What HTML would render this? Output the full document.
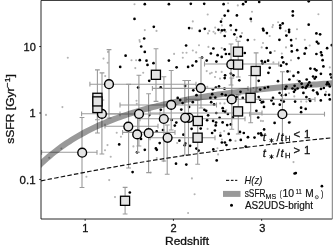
<!DOCTYPE html>
<html><head><meta charset="utf-8"><style>
html,body{margin:0;padding:0;background:#fff;}
body{width:333px;height:245px;overflow:hidden;}
svg{display:block;will-change:transform;}
svg text{font-family:"Liberation Sans",sans-serif;}
</style></head><body>
<svg width="333" height="245" viewBox="0 0 333 245"><defs><clipPath id="ax"><rect x="41" y="0.4" width="291.3" height="218.6"/></clipPath></defs><g clip-path="url(#ax)"><circle cx="134.5" cy="4.2" r="1.05" fill="#b4b4b4"/><circle cx="144.8" cy="30.1" r="1.05" fill="#b4b4b4"/><circle cx="139.5" cy="40.1" r="1.05" fill="#b4b4b4"/><circle cx="192.8" cy="21.4" r="1.05" fill="#b4b4b4"/><circle cx="156.5" cy="30.9" r="1.05" fill="#b4b4b4"/><circle cx="192.0" cy="28.4" r="1.05" fill="#b4b4b4"/><circle cx="228.1" cy="3.3" r="1.05" fill="#b4b4b4"/><circle cx="237.8" cy="5.4" r="1.05" fill="#b4b4b4"/><circle cx="252.0" cy="11.7" r="1.05" fill="#b4b4b4"/><circle cx="207.7" cy="14.5" r="1.05" fill="#b4b4b4"/><circle cx="221.9" cy="18.9" r="1.05" fill="#b4b4b4"/><circle cx="251.2" cy="21.4" r="1.05" fill="#b4b4b4"/><circle cx="221.9" cy="25.4" r="1.05" fill="#b4b4b4"/><circle cx="231.1" cy="30.1" r="1.05" fill="#b4b4b4"/><circle cx="215.2" cy="27.6" r="1.05" fill="#b4b4b4"/><circle cx="209.3" cy="30.9" r="1.05" fill="#b4b4b4"/><circle cx="208.0" cy="33.4" r="1.05" fill="#b4b4b4"/><circle cx="213.5" cy="31.8" r="1.05" fill="#b4b4b4"/><circle cx="215.2" cy="33.4" r="1.05" fill="#b4b4b4"/><circle cx="220.7" cy="32.6" r="1.05" fill="#b4b4b4"/><circle cx="225.7" cy="31.8" r="1.05" fill="#b4b4b4"/><circle cx="236.9" cy="37.6" r="1.05" fill="#b4b4b4"/><circle cx="242.0" cy="33.1" r="1.05" fill="#b4b4b4"/><circle cx="254.5" cy="39.8" r="1.05" fill="#b4b4b4"/><circle cx="236.1" cy="39.8" r="1.05" fill="#b4b4b4"/><circle cx="278.1" cy="22.2" r="1.05" fill="#b4b4b4"/><circle cx="273.0" cy="25.1" r="1.05" fill="#b4b4b4"/><circle cx="272.4" cy="27.1" r="1.05" fill="#b4b4b4"/><circle cx="269.7" cy="36.0" r="1.05" fill="#b4b4b4"/><circle cx="285.7" cy="30.9" r="1.05" fill="#b4b4b4"/><circle cx="297.0" cy="29.3" r="1.05" fill="#b4b4b4"/><circle cx="296.1" cy="38.8" r="1.05" fill="#b4b4b4"/><circle cx="304.8" cy="39.8" r="1.05" fill="#b4b4b4"/><circle cx="318.4" cy="14.2" r="1.05" fill="#b4b4b4"/><circle cx="67.8" cy="57.7" r="1.05" fill="#b4b4b4"/><circle cx="108.0" cy="51.9" r="1.05" fill="#b4b4b4"/><circle cx="103.5" cy="58.6" r="1.05" fill="#b4b4b4"/><circle cx="107.7" cy="62.7" r="1.05" fill="#b4b4b4"/><circle cx="131.5" cy="60.2" r="1.05" fill="#b4b4b4"/><circle cx="136.1" cy="60.2" r="1.05" fill="#b4b4b4"/><circle cx="135.3" cy="68.1" r="1.05" fill="#b4b4b4"/><circle cx="143.2" cy="72.8" r="1.05" fill="#b4b4b4"/><circle cx="139.8" cy="41.8" r="1.05" fill="#b4b4b4"/><circle cx="105.2" cy="76.1" r="1.05" fill="#b4b4b4"/><circle cx="174.1" cy="53.9" r="1.05" fill="#b4b4b4"/><circle cx="182.8" cy="52.7" r="1.05" fill="#b4b4b4"/><circle cx="186.5" cy="52.7" r="1.05" fill="#b4b4b4"/><circle cx="182.8" cy="57.7" r="1.05" fill="#b4b4b4"/><circle cx="192.8" cy="50.5" r="1.05" fill="#b4b4b4"/><circle cx="196.2" cy="52.4" r="1.05" fill="#b4b4b4"/><circle cx="199.0" cy="45.2" r="1.05" fill="#b4b4b4"/><circle cx="208.4" cy="46.9" r="1.05" fill="#b4b4b4"/><circle cx="221.7" cy="48.0" r="1.05" fill="#b4b4b4"/><circle cx="206.7" cy="71.1" r="1.05" fill="#b4b4b4"/><circle cx="210.0" cy="73.6" r="1.05" fill="#b4b4b4"/><circle cx="211.7" cy="72.8" r="1.05" fill="#b4b4b4"/><circle cx="215.9" cy="71.9" r="1.05" fill="#b4b4b4"/><circle cx="221.7" cy="71.9" r="1.05" fill="#b4b4b4"/><circle cx="215.0" cy="77.0" r="1.05" fill="#b4b4b4"/><circle cx="220.0" cy="78.6" r="1.05" fill="#b4b4b4"/><circle cx="263.0" cy="43.0" r="1.05" fill="#b4b4b4"/><circle cx="261.7" cy="47.4" r="1.05" fill="#b4b4b4"/><circle cx="286.0" cy="47.4" r="1.05" fill="#b4b4b4"/><circle cx="274.7" cy="51.0" r="1.05" fill="#b4b4b4"/><circle cx="281.8" cy="53.5" r="1.05" fill="#b4b4b4"/><circle cx="291.0" cy="60.2" r="1.05" fill="#b4b4b4"/><circle cx="290.1" cy="71.4" r="1.05" fill="#b4b4b4"/><circle cx="273.4" cy="62.4" r="1.05" fill="#b4b4b4"/><circle cx="309.7" cy="45.5" r="1.05" fill="#b4b4b4"/><circle cx="329.8" cy="67.4" r="1.05" fill="#b4b4b4"/><circle cx="297.5" cy="80.3" r="1.05" fill="#b4b4b4"/><circle cx="62.4" cy="107.1" r="1.05" fill="#b4b4b4"/><circle cx="46.0" cy="114.9" r="1.05" fill="#b4b4b4"/><circle cx="136.5" cy="100.7" r="1.05" fill="#b4b4b4"/><circle cx="136.8" cy="103.7" r="1.05" fill="#b4b4b4"/><circle cx="116.7" cy="132.7" r="1.05" fill="#b4b4b4"/><circle cx="120.9" cy="136.7" r="1.05" fill="#b4b4b4"/><circle cx="107.5" cy="145.1" r="1.05" fill="#b4b4b4"/><circle cx="105.0" cy="150.3" r="1.05" fill="#b4b4b4"/><circle cx="133.4" cy="146.4" r="1.05" fill="#b4b4b4"/><circle cx="110.7" cy="156.8" r="1.05" fill="#b4b4b4"/><circle cx="109.2" cy="180.1" r="1.05" fill="#b4b4b4"/><circle cx="115.0" cy="197.1" r="1.05" fill="#b4b4b4"/><circle cx="49.2" cy="157.8" r="1.05" fill="#b4b4b4"/><circle cx="61.4" cy="148.6" r="1.05" fill="#b4b4b4"/><circle cx="86.4" cy="176.7" r="1.05" fill="#b4b4b4"/><circle cx="293.5" cy="162.1" r="1.05" fill="#b4b4b4"/><circle cx="263.0" cy="121.1" r="1.05" fill="#b4b4b4"/><circle cx="207.3" cy="86.9" r="1.05" fill="#b4b4b4"/><circle cx="224.5" cy="103.4" r="1.05" fill="#b4b4b4"/><circle cx="220.2" cy="103.4" r="1.05" fill="#b4b4b4"/><circle cx="226.3" cy="110.2" r="1.05" fill="#b4b4b4"/><circle cx="253.4" cy="88.0" r="1.05" fill="#b4b4b4"/><circle cx="257.1" cy="88.0" r="1.05" fill="#b4b4b4"/><circle cx="289.0" cy="93.3" r="1.05" fill="#b4b4b4"/><circle cx="294.3" cy="96.4" r="1.05" fill="#b4b4b4"/><circle cx="301.1" cy="101.6" r="1.05" fill="#b4b4b4"/><circle cx="306.4" cy="101.6" r="1.05" fill="#b4b4b4"/><circle cx="326.0" cy="91.8" r="1.05" fill="#b4b4b4"/><circle cx="207.6" cy="128.9" r="1.05" fill="#b4b4b4"/><circle cx="224.2" cy="131.1" r="1.05" fill="#b4b4b4"/><circle cx="220.4" cy="132.7" r="1.05" fill="#b4b4b4"/><circle cx="235.5" cy="140.9" r="1.05" fill="#b4b4b4"/><circle cx="221.9" cy="139.5" r="1.05" fill="#b4b4b4"/><circle cx="177.2" cy="143.0" r="1.05" fill="#b4b4b4"/><circle cx="156.8" cy="158.1" r="1.05" fill="#b4b4b4"/><circle cx="163.6" cy="161.1" r="1.05" fill="#b4b4b4"/><circle cx="150.8" cy="172.5" r="1.05" fill="#b4b4b4"/><circle cx="217.4" cy="148.3" r="1.05" fill="#b4b4b4"/><circle cx="218.1" cy="154.4" r="1.05" fill="#b4b4b4"/><circle cx="191.9" cy="178.4" r="1.05" fill="#b4b4b4"/><circle cx="194.6" cy="194.3" r="1.05" fill="#b4b4b4"/><circle cx="188.1" cy="213.0" r="1.05" fill="#b4b4b4"/><circle cx="260.9" cy="120.9" r="1.05" fill="#b4b4b4"/><circle cx="247.3" cy="137.5" r="1.05" fill="#b4b4b4"/><circle cx="290.3" cy="122.1" r="1.05" fill="#b4b4b4"/><circle cx="144.8" cy="4.2" r="1.35" fill="#000"/><circle cx="134.5" cy="18.9" r="1.35" fill="#000"/><circle cx="144.2" cy="38.5" r="1.35" fill="#000"/><circle cx="168.9" cy="4.2" r="1.35" fill="#000"/><circle cx="190.8" cy="3.8" r="1.35" fill="#000"/><circle cx="204.2" cy="3.8" r="1.35" fill="#000"/><circle cx="153.8" cy="26.8" r="1.35" fill="#000"/><circle cx="189.1" cy="28.1" r="1.35" fill="#000"/><circle cx="199.8" cy="30.9" r="1.35" fill="#000"/><circle cx="204.8" cy="28.8" r="1.35" fill="#000"/><circle cx="223.6" cy="4.2" r="1.35" fill="#000"/><circle cx="243.1" cy="4.2" r="1.35" fill="#000"/><circle cx="245.8" cy="1.7" r="1.35" fill="#000"/><circle cx="259.2" cy="2.0" r="1.35" fill="#000"/><circle cx="228.1" cy="10.9" r="1.35" fill="#000"/><circle cx="224.7" cy="15.6" r="1.35" fill="#000"/><circle cx="236.9" cy="15.4" r="1.35" fill="#000"/><circle cx="250.8" cy="18.9" r="1.35" fill="#000"/><circle cx="221.0" cy="21.7" r="1.35" fill="#000"/><circle cx="230.7" cy="25.4" r="1.35" fill="#000"/><circle cx="218.5" cy="29.8" r="1.35" fill="#000"/><circle cx="221.9" cy="30.4" r="1.35" fill="#000"/><circle cx="224.4" cy="30.1" r="1.35" fill="#000"/><circle cx="236.1" cy="30.1" r="1.35" fill="#000"/><circle cx="224.7" cy="36.0" r="1.35" fill="#000"/><circle cx="234.4" cy="34.3" r="1.35" fill="#000"/><circle cx="240.7" cy="36.5" r="1.35" fill="#000"/><circle cx="247.8" cy="40.1" r="1.35" fill="#000"/><circle cx="308.7" cy="1.3" r="1.35" fill="#000"/><circle cx="292.8" cy="11.4" r="1.35" fill="#000"/><circle cx="292.8" cy="15.6" r="1.35" fill="#000"/><circle cx="282.7" cy="23.4" r="1.35" fill="#000"/><circle cx="280.2" cy="25.4" r="1.35" fill="#000"/><circle cx="280.2" cy="28.1" r="1.35" fill="#000"/><circle cx="308.7" cy="24.7" r="1.35" fill="#000"/><circle cx="263.0" cy="28.8" r="1.35" fill="#000"/><circle cx="263.5" cy="30.4" r="1.35" fill="#000"/><circle cx="266.9" cy="33.1" r="1.35" fill="#000"/><circle cx="289.1" cy="29.8" r="1.35" fill="#000"/><circle cx="289.1" cy="32.1" r="1.35" fill="#000"/><circle cx="286.4" cy="35.6" r="1.35" fill="#000"/><circle cx="279.4" cy="39.8" r="1.35" fill="#000"/><circle cx="291.1" cy="40.1" r="1.35" fill="#000"/><circle cx="316.4" cy="33.4" r="1.35" fill="#000"/><circle cx="320.1" cy="34.3" r="1.35" fill="#000"/><circle cx="125.6" cy="55.7" r="1.35" fill="#000"/><circle cx="120.2" cy="66.9" r="1.35" fill="#000"/><circle cx="139.8" cy="60.2" r="1.35" fill="#000"/><circle cx="141.2" cy="46.5" r="1.35" fill="#000"/><circle cx="144.8" cy="51.9" r="1.35" fill="#000"/><circle cx="146.5" cy="60.7" r="1.35" fill="#000"/><circle cx="147.5" cy="64.9" r="1.35" fill="#000"/><circle cx="149.2" cy="80.8" r="1.35" fill="#000"/><circle cx="153.5" cy="63.2" r="1.35" fill="#000"/><circle cx="168.9" cy="60.6" r="1.35" fill="#000"/><circle cx="186.1" cy="45.5" r="1.35" fill="#000"/><circle cx="176.6" cy="67.3" r="1.35" fill="#000"/><circle cx="188.1" cy="66.9" r="1.35" fill="#000"/><circle cx="192.5" cy="65.6" r="1.35" fill="#000"/><circle cx="196.2" cy="61.4" r="1.35" fill="#000"/><circle cx="202.0" cy="57.6" r="1.35" fill="#000"/><circle cx="213.4" cy="48.5" r="1.35" fill="#000"/><circle cx="224.7" cy="49.4" r="1.35" fill="#000"/><circle cx="210.9" cy="53.5" r="1.35" fill="#000"/><circle cx="217.6" cy="55.2" r="1.35" fill="#000"/><circle cx="221.7" cy="56.9" r="1.35" fill="#000"/><circle cx="225.9" cy="54.0" r="1.35" fill="#000"/><circle cx="229.3" cy="54.0" r="1.35" fill="#000"/><circle cx="244.8" cy="53.0" r="1.35" fill="#000"/><circle cx="206.7" cy="60.6" r="1.35" fill="#000"/><circle cx="216.4" cy="61.6" r="1.35" fill="#000"/><circle cx="230.9" cy="73.6" r="1.35" fill="#000"/><circle cx="233.4" cy="75.3" r="1.35" fill="#000"/><circle cx="225.1" cy="75.3" r="1.35" fill="#000"/><circle cx="224.7" cy="78.1" r="1.35" fill="#000"/><circle cx="239.3" cy="80.3" r="1.35" fill="#000"/><circle cx="266.7" cy="48.0" r="1.35" fill="#000"/><circle cx="270.4" cy="52.7" r="1.35" fill="#000"/><circle cx="291.5" cy="45.7" r="1.35" fill="#000"/><circle cx="291.8" cy="51.4" r="1.35" fill="#000"/><circle cx="297.2" cy="50.2" r="1.35" fill="#000"/><circle cx="282.1" cy="57.4" r="1.35" fill="#000"/><circle cx="298.5" cy="58.1" r="1.35" fill="#000"/><circle cx="261.7" cy="61.1" r="1.35" fill="#000"/><circle cx="265.0" cy="61.9" r="1.35" fill="#000"/><circle cx="268.1" cy="60.7" r="1.35" fill="#000"/><circle cx="262.5" cy="63.6" r="1.35" fill="#000"/><circle cx="280.9" cy="65.7" r="1.35" fill="#000"/><circle cx="283.4" cy="62.4" r="1.35" fill="#000"/><circle cx="286.5" cy="64.1" r="1.35" fill="#000"/><circle cx="269.7" cy="67.8" r="1.35" fill="#000"/><circle cx="268.4" cy="72.8" r="1.35" fill="#000"/><circle cx="287.6" cy="71.4" r="1.35" fill="#000"/><circle cx="298.2" cy="72.4" r="1.35" fill="#000"/><circle cx="293.5" cy="75.9" r="1.35" fill="#000"/><circle cx="289.4" cy="79.5" r="1.35" fill="#000"/><circle cx="278.0" cy="81.2" r="1.35" fill="#000"/><circle cx="258.7" cy="80.8" r="1.35" fill="#000"/><circle cx="304.6" cy="53.7" r="1.35" fill="#000"/><circle cx="305.9" cy="48.2" r="1.35" fill="#000"/><circle cx="316.8" cy="41.8" r="1.35" fill="#000"/><circle cx="318.4" cy="43.5" r="1.35" fill="#000"/><circle cx="327.1" cy="48.2" r="1.35" fill="#000"/><circle cx="331.8" cy="45.2" r="1.35" fill="#000"/><circle cx="316.4" cy="54.0" r="1.35" fill="#000"/><circle cx="321.0" cy="52.4" r="1.35" fill="#000"/><circle cx="321.8" cy="55.2" r="1.35" fill="#000"/><circle cx="322.6" cy="60.2" r="1.35" fill="#000"/><circle cx="323.4" cy="66.4" r="1.35" fill="#000"/><circle cx="310.4" cy="68.6" r="1.35" fill="#000"/><circle cx="314.7" cy="69.1" r="1.35" fill="#000"/><circle cx="316.4" cy="70.3" r="1.35" fill="#000"/><circle cx="320.9" cy="73.8" r="1.35" fill="#000"/><circle cx="313.1" cy="76.5" r="1.35" fill="#000"/><circle cx="315.9" cy="77.0" r="1.35" fill="#000"/><circle cx="314.7" cy="78.6" r="1.35" fill="#000"/><circle cx="306.7" cy="79.5" r="1.35" fill="#000"/><circle cx="330.5" cy="74.4" r="1.35" fill="#000"/><circle cx="331.5" cy="77.5" r="1.35" fill="#000"/><circle cx="299.4" cy="81.3" r="1.35" fill="#000"/><circle cx="138.1" cy="87.5" r="1.35" fill="#000"/><circle cx="149.3" cy="115.1" r="1.35" fill="#000"/><circle cx="160.7" cy="87.4" r="1.35" fill="#000"/><circle cx="160.8" cy="109.8" r="1.35" fill="#000"/><circle cx="119.2" cy="144.4" r="1.35" fill="#000"/><circle cx="137.1" cy="152.3" r="1.35" fill="#000"/><circle cx="144.8" cy="149.8" r="1.35" fill="#000"/><circle cx="141.0" cy="138.9" r="1.35" fill="#000"/><circle cx="132.6" cy="172.1" r="1.35" fill="#000"/><circle cx="129.8" cy="192.5" r="1.35" fill="#000"/><circle cx="171.7" cy="120.0" r="1.35" fill="#000"/><circle cx="174.8" cy="125.6" r="1.35" fill="#000"/><circle cx="156.7" cy="131.4" r="1.35" fill="#000"/><circle cx="163.0" cy="130.0" r="1.35" fill="#000"/><circle cx="183.4" cy="134.7" r="1.35" fill="#000"/><circle cx="179.4" cy="140.7" r="1.35" fill="#000"/><circle cx="159.7" cy="143.1" r="1.35" fill="#000"/><circle cx="155.9" cy="148.4" r="1.35" fill="#000"/><circle cx="185.3" cy="143.4" r="1.35" fill="#000"/><circle cx="190.1" cy="145.8" r="1.35" fill="#000"/><circle cx="196.4" cy="148.6" r="1.35" fill="#000"/><circle cx="198.6" cy="150.6" r="1.35" fill="#000"/><circle cx="200.7" cy="128.6" r="1.35" fill="#000"/><circle cx="254.5" cy="137.6" r="1.35" fill="#000"/><circle cx="258.4" cy="133.5" r="1.35" fill="#000"/><circle cx="261.6" cy="135.2" r="1.35" fill="#000"/><circle cx="264.1" cy="129.4" r="1.35" fill="#000"/><circle cx="274.6" cy="122.9" r="1.35" fill="#000"/><circle cx="289.2" cy="122.5" r="1.35" fill="#000"/><circle cx="295.8" cy="173.1" r="1.35" fill="#000"/><circle cx="294.6" cy="173.5" r="1.35" fill="#000"/><circle cx="321.9" cy="186.2" r="1.35" fill="#000"/><circle cx="215.9" cy="87.5" r="1.35" fill="#000"/><circle cx="219.0" cy="86.3" r="1.35" fill="#000"/><circle cx="212.9" cy="89.3" r="1.35" fill="#000"/><circle cx="224.5" cy="88.7" r="1.35" fill="#000"/><circle cx="212.2" cy="94.2" r="1.35" fill="#000"/><circle cx="222.0" cy="94.2" r="1.35" fill="#000"/><circle cx="225.7" cy="95.2" r="1.35" fill="#000"/><circle cx="210.4" cy="97.9" r="1.35" fill="#000"/><circle cx="215.3" cy="97.7" r="1.35" fill="#000"/><circle cx="211.2" cy="102.2" r="1.35" fill="#000"/><circle cx="214.1" cy="104.4" r="1.35" fill="#000"/><circle cx="222.7" cy="108.2" r="1.35" fill="#000"/><circle cx="206.2" cy="110.8" r="1.35" fill="#000"/><circle cx="240.5" cy="91.8" r="1.35" fill="#000"/><circle cx="236.8" cy="97.1" r="1.35" fill="#000"/><circle cx="242.8" cy="97.9" r="1.35" fill="#000"/><circle cx="260.2" cy="89.6" r="1.35" fill="#000"/><circle cx="264.7" cy="88.0" r="1.35" fill="#000"/><circle cx="268.1" cy="87.1" r="1.35" fill="#000"/><circle cx="258.7" cy="97.1" r="1.35" fill="#000"/><circle cx="260.2" cy="99.8" r="1.35" fill="#000"/><circle cx="261.7" cy="102.4" r="1.35" fill="#000"/><circle cx="263.2" cy="101.9" r="1.35" fill="#000"/><circle cx="271.5" cy="100.4" r="1.35" fill="#000"/><circle cx="273.0" cy="97.9" r="1.35" fill="#000"/><circle cx="273.5" cy="103.9" r="1.35" fill="#000"/><circle cx="279.6" cy="93.0" r="1.35" fill="#000"/><circle cx="281.3" cy="100.1" r="1.35" fill="#000"/><circle cx="279.8" cy="104.7" r="1.35" fill="#000"/><circle cx="264.0" cy="106.9" r="1.35" fill="#000"/><circle cx="256.4" cy="110.8" r="1.35" fill="#000"/><circle cx="258.2" cy="117.5" r="1.35" fill="#000"/><circle cx="286.4" cy="86.5" r="1.35" fill="#000"/><circle cx="285.3" cy="88.8" r="1.35" fill="#000"/><circle cx="292.5" cy="88.5" r="1.35" fill="#000"/><circle cx="294.6" cy="85.8" r="1.35" fill="#000"/><circle cx="295.2" cy="89.8" r="1.35" fill="#000"/><circle cx="297.6" cy="88.5" r="1.35" fill="#000"/><circle cx="294.0" cy="91.8" r="1.35" fill="#000"/><circle cx="281.9" cy="95.3" r="1.35" fill="#000"/><circle cx="285.8" cy="94.9" r="1.35" fill="#000"/><circle cx="302.6" cy="87.3" r="1.35" fill="#000"/><circle cx="305.7" cy="88.0" r="1.35" fill="#000"/><circle cx="308.0" cy="84.7" r="1.35" fill="#000"/><circle cx="311.0" cy="85.8" r="1.35" fill="#000"/><circle cx="313.2" cy="90.3" r="1.35" fill="#000"/><circle cx="317.0" cy="92.6" r="1.35" fill="#000"/><circle cx="317.7" cy="94.1" r="1.35" fill="#000"/><circle cx="323.8" cy="88.0" r="1.35" fill="#000"/><circle cx="326.8" cy="84.3" r="1.35" fill="#000"/><circle cx="329.8" cy="86.5" r="1.35" fill="#000"/><circle cx="329.1" cy="94.8" r="1.35" fill="#000"/><circle cx="329.8" cy="99.4" r="1.35" fill="#000"/><circle cx="303.4" cy="92.9" r="1.35" fill="#000"/><circle cx="306.4" cy="97.1" r="1.35" fill="#000"/><circle cx="309.4" cy="99.4" r="1.35" fill="#000"/><circle cx="310.2" cy="100.9" r="1.35" fill="#000"/><circle cx="320.8" cy="100.4" r="1.35" fill="#000"/><circle cx="295.1" cy="101.6" r="1.35" fill="#000"/><circle cx="283.8" cy="101.6" r="1.35" fill="#000"/><circle cx="301.1" cy="107.7" r="1.35" fill="#000"/><circle cx="305.7" cy="108.9" r="1.35" fill="#000"/><circle cx="301.1" cy="112.2" r="1.35" fill="#000"/><circle cx="325.3" cy="94.8" r="1.35" fill="#000"/><circle cx="216.3" cy="113.0" r="1.35" fill="#000"/><circle cx="223.2" cy="111.0" r="1.35" fill="#000"/><circle cx="219.6" cy="117.8" r="1.35" fill="#000"/><circle cx="207.1" cy="120.2" r="1.35" fill="#000"/><circle cx="213.1" cy="120.9" r="1.35" fill="#000"/><circle cx="216.1" cy="122.5" r="1.35" fill="#000"/><circle cx="215.7" cy="125.4" r="1.35" fill="#000"/><circle cx="222.6" cy="122.4" r="1.35" fill="#000"/><circle cx="227.2" cy="125.1" r="1.35" fill="#000"/><circle cx="230.8" cy="124.4" r="1.35" fill="#000"/><circle cx="214.9" cy="130.5" r="1.35" fill="#000"/><circle cx="212.1" cy="133.0" r="1.35" fill="#000"/><circle cx="220.4" cy="135.7" r="1.35" fill="#000"/><circle cx="228.7" cy="133.9" r="1.35" fill="#000"/><circle cx="240.0" cy="131.9" r="1.35" fill="#000"/><circle cx="243.8" cy="133.0" r="1.35" fill="#000"/><circle cx="230.2" cy="140.2" r="1.35" fill="#000"/><circle cx="221.9" cy="142.5" r="1.35" fill="#000"/><circle cx="224.9" cy="142.5" r="1.35" fill="#000"/><circle cx="226.4" cy="145.0" r="1.35" fill="#000"/><circle cx="240.8" cy="139.9" r="1.35" fill="#000"/><circle cx="248.0" cy="137.2" r="1.35" fill="#000"/><circle cx="245.7" cy="146.6" r="1.35" fill="#000"/><circle cx="156.8" cy="149.8" r="1.35" fill="#000"/><circle cx="184.7" cy="145.3" r="1.35" fill="#000"/><circle cx="176.0" cy="163.7" r="1.35" fill="#000"/><circle cx="186.3" cy="164.6" r="1.35" fill="#000"/><circle cx="213.3" cy="149.4" r="1.35" fill="#000"/><circle cx="216.7" cy="160.4" r="1.35" fill="#000"/><circle cx="260.9" cy="133.4" r="1.35" fill="#000"/><circle cx="185.1" cy="85.9" r="1.35" fill="#000"/><circle cx="193.3" cy="90.3" r="1.35" fill="#000"/><circle cx="196.5" cy="95.2" r="1.35" fill="#000"/><circle cx="177.7" cy="97.9" r="1.35" fill="#000"/><circle cx="180.2" cy="100.1" r="1.35" fill="#000"/><circle cx="182.6" cy="103.1" r="1.35" fill="#000"/><circle cx="192.8" cy="102.2" r="1.35" fill="#000"/><circle cx="189.1" cy="106.9" r="1.35" fill="#000"/><circle cx="181.3" cy="109.6" r="1.35" fill="#000"/><circle cx="204.4" cy="109.8" r="1.35" fill="#000"/><circle cx="208.1" cy="115.3" r="1.35" fill="#000"/><circle cx="176.3" cy="122.6" r="1.35" fill="#000"/><circle cx="191.6" cy="128.8" r="1.35" fill="#000"/><circle cx="225.1" cy="111.9" r="1.35" fill="#000"/><circle cx="227.9" cy="114.0" r="1.35" fill="#000"/><circle cx="232.8" cy="117.4" r="1.35" fill="#000"/><circle cx="309.4" cy="82.4" r="1.35" fill="#000"/><circle cx="306.8" cy="86.3" r="1.35" fill="#000"/><circle cx="301.6" cy="83.7" r="1.35" fill="#000"/><circle cx="321.0" cy="88.9" r="1.35" fill="#000"/><circle cx="327.5" cy="82.4" r="1.35" fill="#000"/><circle cx="328.8" cy="84.3" r="1.35" fill="#000"/><path d="M109.0,49.6V118.0M106.6,49.6h4.8M106.6,118.0h4.8" stroke="#9a9a9a" stroke-width="1.1" fill="none"/><path d="M101.9,100V154.0M99.5,100h4.8M99.5,154.0h4.8" stroke="#9a9a9a" stroke-width="1.1" fill="none"/><path d="M82.0,117.5V187.5M79.6,117.5h4.8M79.6,187.5h4.8" stroke="#9a9a9a" stroke-width="1.1" fill="none"/><path d="M138.9,75.2V146M136.5,75.2h4.8M136.5,146h4.8" stroke="#9a9a9a" stroke-width="1.1" fill="none"/><path d="M128.6,84.4V168.0M126.19999999999999,84.4h4.8M126.19999999999999,168.0h4.8" stroke="#9a9a9a" stroke-width="1.1" fill="none"/><path d="M137.6,118V152.2M135.2,118h4.8M135.2,152.2h4.8" stroke="#9a9a9a" stroke-width="1.1" fill="none"/><path d="M148.6,93.8V172.6M146.2,93.8h4.8M146.2,172.6h4.8" stroke="#9a9a9a" stroke-width="1.1" fill="none"/><path d="M171.2,70.5V130M168.79999999999998,70.5h4.8M168.79999999999998,130h4.8" stroke="#9a9a9a" stroke-width="1.1" fill="none"/><path d="M163.9,76.7V161M161.5,76.7h4.8M161.5,161h4.8" stroke="#9a9a9a" stroke-width="1.1" fill="none"/><path d="M188.5,80.5V155M186.1,80.5h4.8M186.1,155h4.8" stroke="#9a9a9a" stroke-width="1.1" fill="none"/><path d="M184.8,80.5V155M182.4,80.5h4.8M182.4,155h4.8" stroke="#9a9a9a" stroke-width="1.1" fill="none"/><path d="M167.2,125V174.2M164.79999999999998,125h4.8M164.79999999999998,174.2h4.8" stroke="#9a9a9a" stroke-width="1.1" fill="none"/><path d="M201.0,57.7V108M198.6,57.7h4.8M198.6,108h4.8" stroke="#9a9a9a" stroke-width="1.1" fill="none"/><path d="M231.0,44.0V85M228.6,44.0h4.8M228.6,85h4.8" stroke="#9a9a9a" stroke-width="1.1" fill="none"/><path d="M231.8,78V129.3M229.4,78h4.8M229.4,129.3h4.8" stroke="#9a9a9a" stroke-width="1.1" fill="none"/><path d="M282.4,71.7V143.3M280.0,71.7h4.8M280.0,143.3h4.8" stroke="#9a9a9a" stroke-width="1.1" fill="none"/><path d="M97.4,69.9V133.0M95.0,69.9h4.8M95.0,133.0h4.8" stroke="#9a9a9a" stroke-width="1.1" fill="none"/><path d="M97.4,110V119.7M95.0,110h4.8M95.0,119.7h4.8" stroke="#9a9a9a" stroke-width="1.1" fill="none"/><path d="M102.0,72.9V112M99.6,72.9h4.8M99.6,112h4.8" stroke="#9a9a9a" stroke-width="1.1" fill="none"/><path d="M156.0,48.8V101.4M153.6,48.8h4.8M153.6,101.4h4.8" stroke="#9a9a9a" stroke-width="1.1" fill="none"/><path d="M238.2,41.3V77.0M235.79999999999998,41.3h4.8M235.79999999999998,77.0h4.8" stroke="#9a9a9a" stroke-width="1.1" fill="none"/><path d="M256.1,52.9V92M253.70000000000002,52.9h4.8M253.70000000000002,92h4.8" stroke="#9a9a9a" stroke-width="1.1" fill="none"/><path d="M250.7,75.5V122.8M248.29999999999998,75.5h4.8M248.29999999999998,122.8h4.8" stroke="#9a9a9a" stroke-width="1.1" fill="none"/><path d="M238.3,95V134.0M235.9,95h4.8M235.9,134.0h4.8" stroke="#9a9a9a" stroke-width="1.1" fill="none"/><path d="M197.7,100V164.2M195.29999999999998,100h4.8M195.29999999999998,164.2h4.8" stroke="#9a9a9a" stroke-width="1.1" fill="none"/><path d="M125.1,187.4V214.0M122.69999999999999,187.4h4.8M122.69999999999999,214.0h4.8" stroke="#9a9a9a" stroke-width="1.1" fill="none"/><path d="M89.9,84.2H196M89.9,81.8v4.8M196,81.8v4.8" stroke="#9a9a9a" stroke-width="1.1" fill="none"/><path d="M81.6,113.8H120M81.6,111.39999999999999v4.8M120,111.39999999999999v4.8" stroke="#9a9a9a" stroke-width="1.1" fill="none"/><path d="M41.6,152.3H97.0M41.6,149.9v4.8M97.0,149.9v4.8" stroke="#9a9a9a" stroke-width="1.1" fill="none"/><path d="M102,114.0H160M102,111.6v4.8M160,111.6v4.8" stroke="#9a9a9a" stroke-width="1.1" fill="none"/><path d="M105,126.2H158M105,123.8v4.8M158,123.8v4.8" stroke="#9a9a9a" stroke-width="1.1" fill="none"/><path d="M122.6,132.4H175M122.6,130.0v4.8M175,130.0v4.8" stroke="#9a9a9a" stroke-width="1.1" fill="none"/><path d="M120.0,105.0H216.5M120.0,102.6v4.8M216.5,102.6v4.8" stroke="#9a9a9a" stroke-width="1.1" fill="none"/><path d="M152.4,88.4H248M152.4,86.0v4.8M248,86.0v4.8" stroke="#9a9a9a" stroke-width="1.1" fill="none"/><path d="M204.5,64.0H278.8M204.5,61.6v4.8M278.8,61.6v4.8" stroke="#9a9a9a" stroke-width="1.1" fill="none"/><path d="M249.6,114.2H324.5M249.6,111.8v4.8M324.5,111.8v4.8" stroke="#9a9a9a" stroke-width="1.1" fill="none"/><path d="M140,118.8H245M140,116.39999999999999v4.8M245,116.39999999999999v4.8" stroke="#9a9a9a" stroke-width="1.1" fill="none"/><path d="M150,137.8H215M150,135.4v4.8M215,135.4v4.8" stroke="#9a9a9a" stroke-width="1.1" fill="none"/><path d="M186,99.3H315M186,96.89999999999999v4.8M315,96.89999999999999v4.8" stroke="#9a9a9a" stroke-width="1.1" fill="none"/><path d="M150,113.0H262M150,110.6v4.8M262,110.6v4.8" stroke="#9a9a9a" stroke-width="1.1" fill="none"/><polyline points="36.59,168.06 39.11,165.55 41.63,163.13 44.15,160.80 46.67,158.54 49.20,156.37 51.72,154.26 54.24,152.24 56.76,150.27 59.28,148.38 61.81,146.55 64.33,144.78 66.85,143.06 69.37,141.40 71.89,139.80 74.42,138.24 76.94,136.74 79.46,135.28 81.98,133.87 84.50,132.50 87.03,131.17 89.55,129.89 92.07,128.64 94.59,127.42 97.11,126.25 99.64,125.11 102.16,124.00 104.68,122.92 107.20,121.87 109.72,120.86 112.25,119.87 114.77,118.91 117.29,117.97 119.81,117.06 122.33,116.18 124.86,115.31 127.38,114.48 129.90,113.66 132.42,112.86 134.94,112.09 137.47,111.33 139.99,110.60 142.51,109.88 145.03,109.18 147.55,108.49 150.08,107.83 152.60,107.18 155.12,106.54 157.64,105.92 160.16,105.32 162.69,104.73 165.21,104.15 167.73,103.59 170.25,103.04 172.77,102.50 175.30,101.97 177.82,101.46 180.34,100.95 182.86,100.46 185.38,99.98 187.91,99.51 190.43,99.05 192.95,98.60 195.47,98.16 197.99,97.72 200.52,97.30 203.04,96.88 205.56,96.48 208.08,96.08 210.60,95.69 213.13,95.31 215.65,94.93 218.17,94.57 220.69,94.21 223.21,93.85 225.74,93.51 228.26,93.17 230.78,92.83 233.30,92.51 235.82,92.19 238.35,91.87 240.87,91.56 243.39,91.26 245.91,90.96 248.43,90.67 250.96,90.38 253.48,90.10 256.00,89.82 258.52,89.55 261.04,89.28 263.57,89.02 266.09,88.76 268.61,88.51 271.13,88.26 273.65,88.01 276.18,87.77 278.70,87.53 281.22,87.30 283.74,87.07 286.26,86.85 288.79,86.62 291.31,86.41 293.83,86.19 296.35,85.98 298.87,85.77 301.40,85.57 303.92,85.37 306.44,85.17 308.96,84.97 311.48,84.78 314.01,84.59 316.53,84.40 319.05,84.22 321.57,84.04 324.09,83.86 326.62,83.68 329.14,83.51 331.66,83.34 334.18,83.17 336.70,83.01" fill="none" stroke="#000" stroke-opacity="0.40" stroke-width="6"/><polyline points="41.00,180.83 45.92,179.88 50.84,178.92 55.77,177.96 60.69,176.99 65.61,176.03 70.53,175.07 75.46,174.12 80.38,173.18 85.30,172.24 90.22,171.31 95.14,170.39 100.07,169.48 104.99,168.58 109.91,167.69 114.83,166.81 119.75,165.94 124.68,165.08 129.60,164.24 134.52,163.41 139.44,162.58 144.37,161.77 149.29,160.97 154.21,160.18 159.13,159.41 164.05,158.64 168.98,157.89 173.90,157.14 178.82,156.41 183.74,155.68 188.67,154.97 193.59,154.26 198.51,153.57 203.43,152.89 208.35,152.21 213.28,151.54 218.20,150.89 223.12,150.24 228.04,149.60 232.96,148.97 237.89,148.34 242.81,147.73 247.73,147.12 252.65,146.52 257.58,145.93 262.50,145.34 267.42,144.77 272.34,144.20 277.26,143.63 282.19,143.08 287.11,142.53 292.03,141.98 296.95,141.45 301.88,140.91 306.80,140.39 311.72,139.87 316.64,139.36 321.56,138.85 326.49,138.35 331.41,137.85" fill="none" stroke="#111" stroke-width="1.15" stroke-dasharray="4.5 2.2"/><circle cx="109.0" cy="84.2" r="4.4" fill="#e4e4e4" stroke="#000" stroke-width="1.4"/><circle cx="101.9" cy="113.9" r="4.4" fill="#e4e4e4" stroke="#000" stroke-width="1.4"/><circle cx="82.2" cy="152.7" r="4.4" fill="#e4e4e4" stroke="#000" stroke-width="1.4"/><circle cx="139.0" cy="114.0" r="4.4" fill="#e4e4e4" stroke="#000" stroke-width="1.4"/><circle cx="128.3" cy="126.6" r="4.4" fill="#e4e4e4" stroke="#000" stroke-width="1.4"/><circle cx="137.2" cy="134.4" r="4.4" fill="#e4e4e4" stroke="#000" stroke-width="1.4"/><circle cx="148.7" cy="133.2" r="4.4" fill="#e4e4e4" stroke="#000" stroke-width="1.4"/><circle cx="171.2" cy="104.9" r="4.4" fill="#e4e4e4" stroke="#000" stroke-width="1.4"/><circle cx="163.8" cy="119.0" r="4.4" fill="#e4e4e4" stroke="#000" stroke-width="1.4"/><circle cx="188.9" cy="117.8" r="4.4" fill="#e4e4e4" stroke="#000" stroke-width="1.4"/><circle cx="185.2" cy="117.8" r="4.4" fill="#e4e4e4" stroke="#000" stroke-width="1.4"/><circle cx="167.6" cy="137.8" r="4.4" fill="#e4e4e4" stroke="#000" stroke-width="1.4"/><circle cx="200.8" cy="88.1" r="4.4" fill="#e4e4e4" stroke="#000" stroke-width="1.4"/><circle cx="231.3" cy="64.4" r="4.4" fill="#e4e4e4" stroke="#000" stroke-width="1.4"/><circle cx="231.7" cy="99.4" r="4.4" fill="#e4e4e4" stroke="#000" stroke-width="1.4"/><circle cx="282.4" cy="114.2" r="4.4" fill="#e4e4e4" stroke="#000" stroke-width="1.4"/><rect x="92.85" y="93.25" width="9.1" height="9.1" fill="#e4e4e4" stroke="#000" stroke-width="1.3"/><rect x="92.85" y="103.45" width="9.1" height="9.1" fill="#e4e4e4" stroke="#000" stroke-width="1.3"/><rect x="92.85" y="96.85" width="9.1" height="9.1" fill="#e4e4e4" stroke="#000" stroke-width="1.3"/><rect x="151.35" y="70.25" width="9.1" height="9.1" fill="#e4e4e4" stroke="#000" stroke-width="1.3"/><rect x="233.45" y="47.15" width="9.1" height="9.1" fill="#e4e4e4" stroke="#000" stroke-width="1.3"/><rect x="233.55" y="60.05" width="9.1" height="9.1" fill="#e4e4e4" stroke="#000" stroke-width="1.3"/><rect x="251.15" y="66.45" width="9.1" height="9.1" fill="#e4e4e4" stroke="#000" stroke-width="1.3"/><rect x="246.05" y="93.35" width="9.1" height="9.1" fill="#e4e4e4" stroke="#000" stroke-width="1.3"/><rect x="233.45" y="106.85" width="9.1" height="9.1" fill="#e4e4e4" stroke="#000" stroke-width="1.3"/><rect x="193.25" y="116.45" width="9.1" height="9.1" fill="#e4e4e4" stroke="#000" stroke-width="1.3"/><rect x="193.05" y="133.15" width="9.1" height="9.1" fill="#e4e4e4" stroke="#000" stroke-width="1.3"/><rect x="120.50" y="196.25" width="9.1" height="9.1" fill="#e4e4e4" stroke="#000" stroke-width="1.3"/></g><path d="M332.3,0.4H41.0V219.0H332.3" fill="none" stroke="#111" stroke-width="0.9"/><line x1="332.3" y1="0.4" x2="332.3" y2="219.0" stroke="#7a7a7a" stroke-width="1"/><line x1="85.13" y1="219.0" x2="85.13" y2="220.8" stroke="#111" stroke-width="0.9"/><line x1="173.41" y1="219.0" x2="173.41" y2="220.8" stroke="#111" stroke-width="0.9"/><line x1="261.67" y1="219.0" x2="261.67" y2="220.8" stroke="#111" stroke-width="0.9"/><line x1="41.0" y1="46.55" x2="39.2" y2="46.55" stroke="#111" stroke-width="0.9"/><line x1="41.0" y1="113.00" x2="39.2" y2="113.00" stroke="#111" stroke-width="0.9"/><line x1="41.0" y1="179.45" x2="39.2" y2="179.45" stroke="#111" stroke-width="0.9"/><text x="35.8" y="51" font-family="Liberation Sans, sans-serif" stroke="#111" stroke-width="0.3" font-size="11" text-anchor="end" fill="#111">10</text><text x="35.6" y="117.2" font-family="Liberation Sans, sans-serif" stroke="#111" stroke-width="0.3" font-size="11" text-anchor="end" fill="#111">1</text><text x="19.6" y="184" font-family="Liberation Sans, sans-serif" stroke="#111" stroke-width="0.3" font-size="11" textLength="16" lengthAdjust="spacingAndGlyphs" fill="#111">0.1</text><text x="85.4" y="232" font-family="Liberation Sans, sans-serif" stroke="#111" stroke-width="0.3" font-size="11" text-anchor="middle" fill="#111">1</text><text x="173.6" y="232" font-family="Liberation Sans, sans-serif" stroke="#111" stroke-width="0.3" font-size="11" text-anchor="middle" fill="#111">2</text><text x="262.2" y="232" font-family="Liberation Sans, sans-serif" stroke="#111" stroke-width="0.3" font-size="11" text-anchor="middle" fill="#111">3</text><text x="165" y="245" font-family="Liberation Sans, sans-serif" stroke="#111" stroke-width="0.3" font-size="11.3" textLength="44" lengthAdjust="spacingAndGlyphs" fill="#111">Redshift</text><text transform="translate(13.9,108.9) rotate(-90) scale(1.1,1)" font-family="Liberation Sans, sans-serif" stroke="#111" stroke-width="0.3" font-size="11" text-anchor="middle" fill="#111">sSFR [Gyr<tspan dy="-4" font-size="8">−1</tspan><tspan dy="4">]</tspan></text><line x1="226.0" y1="180.4" x2="229.2" y2="180.4" stroke="#222" stroke-width="1.2"/><line x1="230.9" y1="180.4" x2="233.5" y2="180.4" stroke="#222" stroke-width="1.2"/><line x1="235.1" y1="180.4" x2="237.3" y2="180.4" stroke="#222" stroke-width="1.2"/><text x="244.5" y="184.4" font-family="Liberation Sans, sans-serif" stroke="#111" stroke-width="0.1" font-size="10.3" font-style="italic" textLength="17.8" lengthAdjust="spacingAndGlyphs" fill="#111">H(z)</text><rect x="223" y="190.9" width="17.5" height="6" fill="#000" fill-opacity="0.40"/><text x="244.7" y="197.4" font-family="Liberation Sans, sans-serif" stroke="#111" stroke-width="0.18" font-size="10.4" textLength="20.9" lengthAdjust="spacingAndGlyphs" fill="#111">sSFR</text><text x="265.6" y="198.6" font-family="Liberation Sans, sans-serif" stroke="#111" stroke-width="0.18" font-size="7.2" textLength="10.5" lengthAdjust="spacingAndGlyphs" fill="#111">MS</text><text x="279.8" y="197.3" font-family="Liberation Sans, sans-serif" stroke="#111" stroke-width="0.18" font-size="9.8" textLength="2.0" lengthAdjust="spacingAndGlyphs" fill="#111">(</text><text x="282.5" y="197.4" font-family="Liberation Sans, sans-serif" stroke="#111" stroke-width="0.18" font-size="10.2" textLength="11.6" lengthAdjust="spacingAndGlyphs" fill="#111">10</text><text x="295.8" y="193.6" font-family="Liberation Sans, sans-serif" stroke="#111" stroke-width="0.18" font-size="7.8" textLength="6.0" lengthAdjust="spacingAndGlyphs" fill="#111">11</text><text x="305.2" y="197.4" font-family="Liberation Sans, sans-serif" stroke="#111" stroke-width="0.18" font-size="10.2" textLength="8.4" lengthAdjust="spacingAndGlyphs" fill="#111">M</text><circle cx="316.8" cy="197.2" r="1.55" fill="none" stroke="#111" stroke-width="0.65"/><circle cx="316.8" cy="197.2" r="0.4" fill="#111"/><text x="320.9" y="197.3" font-family="Liberation Sans, sans-serif" stroke="#111" stroke-width="0.18" font-size="9.8" textLength="2.4" lengthAdjust="spacingAndGlyphs" fill="#111">)</text><circle cx="231.5" cy="205.3" r="1.5" fill="#000"/><text x="244.9" y="208.8" font-family="Liberation Sans, sans-serif" stroke="#111" stroke-width="0.18" font-size="10" textLength="68.2" lengthAdjust="spacingAndGlyphs" fill="#111">AS2UDS-bright</text><text x="262.8" y="140.9" font-family="Liberation Sans, sans-serif" stroke="#111" stroke-width="0.3" font-size="11.3" font-style="italic" fill="#111">t</text><path d="M271.50,138.30L271.50,142.70M273.41,139.40L269.59,141.60M273.41,141.60L269.59,139.40" stroke="#111" stroke-width="1.0" fill="none"/><text x="276.4" y="140.9" font-family="Liberation Sans, sans-serif" stroke="#111" stroke-width="0.3" font-size="11.3" fill="#111">/</text><text x="280.4" y="140.9" font-family="Liberation Sans, sans-serif" stroke="#111" stroke-width="0.3" font-size="11.3" font-style="italic" fill="#111">t</text><text x="285.0" y="141.3" font-family="Liberation Sans, sans-serif" stroke="#111" stroke-width="0.3" font-size="7.6" fill="#111">H</text><text x="293.6" y="137.9" font-family="Liberation Sans, sans-serif" stroke="#111" stroke-width="0.3" font-size="11.3" fill="#111">&lt;</text><text x="303.9" y="137.9" font-family="Liberation Sans, sans-serif" stroke="#111" stroke-width="0.3" font-size="11.3" fill="#111">1</text><text x="262.8" y="157.1" font-family="Liberation Sans, sans-serif" stroke="#111" stroke-width="0.3" font-size="11.3" font-style="italic" fill="#111">t</text><path d="M271.50,154.50L271.50,158.90M273.41,155.60L269.59,157.80M273.41,157.80L269.59,155.60" stroke="#111" stroke-width="1.0" fill="none"/><text x="276.4" y="157.1" font-family="Liberation Sans, sans-serif" stroke="#111" stroke-width="0.3" font-size="11.3" fill="#111">/</text><text x="280.4" y="157.1" font-family="Liberation Sans, sans-serif" stroke="#111" stroke-width="0.3" font-size="11.3" font-style="italic" fill="#111">t</text><text x="285.0" y="157.5" font-family="Liberation Sans, sans-serif" stroke="#111" stroke-width="0.3" font-size="7.6" fill="#111">H</text><text x="293.6" y="154.1" font-family="Liberation Sans, sans-serif" stroke="#111" stroke-width="0.3" font-size="11.3" fill="#111">&gt;</text><text x="303.9" y="154.1" font-family="Liberation Sans, sans-serif" stroke="#111" stroke-width="0.3" font-size="11.3" fill="#111">1</text></svg>
</body></html>
